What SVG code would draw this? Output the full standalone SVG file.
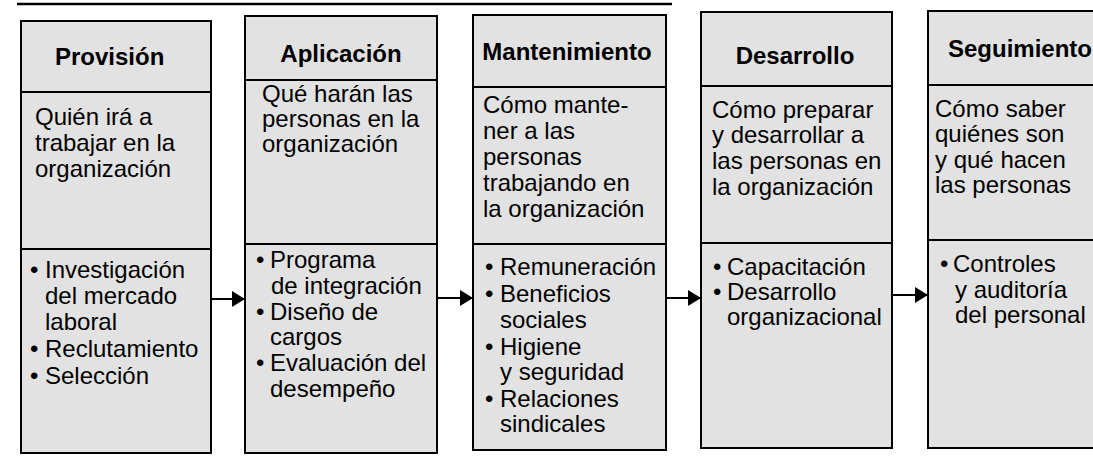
<svg xmlns="http://www.w3.org/2000/svg" width="1093" height="457" viewBox="0 0 1093 457">
<defs>
<style>
.box{fill:#e2e2e2;stroke:#000;stroke-width:2}
.div{stroke:#000;stroke-width:2}
.h{font-family:"Liberation Sans",Arial,sans-serif;font-weight:bold;font-size:24px;fill:#000}
.t{font-family:"Liberation Sans",Arial,sans-serif;font-size:24px;fill:#000}
.con{stroke:#000;stroke-width:2;fill:none}
</style>
<marker id="ah" markerUnits="userSpaceOnUse" markerWidth="14" markerHeight="16" refX="13" refY="8" orient="auto">
<path d="M0,0 L13,8 L0,16 Z" fill="#000"/>
</marker>
</defs>
<rect width="1093" height="457" fill="#fff"/>
<line x1="17" y1="4" x2="672" y2="4" stroke="#000" stroke-width="2.5"/>

<g id="provision">
<rect class="box" x="21" y="21" width="190" height="432"/>
<line class="div" x1="21" y1="92" x2="211" y2="92"/>
<line class="div" x1="21" y1="249" x2="211" y2="249"/>
<text class="h" x="55" y="65">Provisión</text>
<text class="t"><tspan x="35" y="125">Quién irá a</tspan><tspan x="35" y="151">trabajar en la</tspan><tspan x="35" y="177">organización</tspan></text>
<text class="t"><tspan x="30" y="278">•</tspan><tspan x="45" y="278">Investigación</tspan><tspan x="45" y="304">del mercado</tspan><tspan x="45" y="330">laboral</tspan><tspan x="30" y="357">•</tspan><tspan x="45" y="357">Reclutamiento</tspan><tspan x="30" y="384">•</tspan><tspan x="45" y="384">Selección</tspan></text>
</g>

<g id="aplicacion">
<rect class="box" x="245" y="16" width="192" height="437"/>
<line class="div" x1="245" y1="80" x2="437" y2="80"/>
<line class="div" x1="245" y1="244" x2="437" y2="244"/>
<text class="h" x="341" y="62" text-anchor="middle">Aplicación</text>
<text class="t"><tspan x="262" y="102">Qué harán las</tspan><tspan x="262" y="127">personas en la</tspan><tspan x="262" y="152">organización</tspan></text>
<text class="t"><tspan x="256" y="268">•</tspan><tspan x="270" y="268">Programa</tspan><tspan x="271" y="294">de integración</tspan><tspan x="256" y="320">•</tspan><tspan x="270" y="320">Diseño de</tspan><tspan x="270" y="345">cargos</tspan><tspan x="256" y="371">•</tspan><tspan x="270" y="371">Evaluación del</tspan><tspan x="270" y="397">desempeño</tspan></text>
</g>

<g id="mantenimiento">
<rect class="box" x="473" y="15" width="193" height="435"/>
<line class="div" x1="473" y1="87" x2="666" y2="87"/>
<line class="div" x1="473" y1="244" x2="666" y2="244"/>
<text class="h" x="567" y="60" text-anchor="middle">Mantenimiento</text>
<text class="t"><tspan x="483" y="113">Cómo mante-</tspan><tspan x="483" y="139">ner a las</tspan><tspan x="483" y="165">personas</tspan><tspan x="483" y="191">trabajando en</tspan><tspan x="483" y="217">la organización</tspan></text>
<text class="t"><tspan x="485" y="275">•</tspan><tspan x="500" y="275">Remuneración</tspan><tspan x="485" y="302">•</tspan><tspan x="500" y="302">Beneficios</tspan><tspan x="500" y="328">sociales</tspan><tspan x="485" y="355">•</tspan><tspan x="500" y="355">Higiene</tspan><tspan x="500" y="380">y seguridad</tspan><tspan x="485" y="407">•</tspan><tspan x="500" y="407">Relaciones</tspan><tspan x="500" y="432">sindicales</tspan></text>
</g>

<g id="desarrollo">
<rect class="box" x="701" y="12" width="191" height="436"/>
<line class="div" x1="701" y1="86" x2="892" y2="86"/>
<line class="div" x1="701" y1="243" x2="892" y2="243"/>
<text class="h" x="795" y="64" text-anchor="middle">Desarrollo</text>
<text class="t"><tspan x="712" y="118">Cómo preparar</tspan><tspan x="712" y="143">y desarrollar a</tspan><tspan x="712" y="169">las personas en</tspan><tspan x="712" y="195">la organización</tspan></text>
<text class="t"><tspan x="713" y="275">•</tspan><tspan x="727" y="275">Capacitación</tspan><tspan x="713" y="300">•</tspan><tspan x="727" y="300">Desarrollo</tspan><tspan x="727" y="325">organizacional</tspan></text>
</g>

<g id="seguimiento">
<rect class="box" x="928" y="11" width="180" height="437"/>
<line class="div" x1="928" y1="85" x2="1093" y2="85"/>
<line class="div" x1="928" y1="240" x2="1093" y2="240"/>
<text class="h" x="948" y="57">Seguimiento</text>
<text class="t"><tspan x="935" y="117">Cómo saber</tspan><tspan x="935" y="142">quiénes son</tspan><tspan x="935" y="168">y qué hacen</tspan><tspan x="935" y="193">las personas</tspan></text>
<text class="t"><tspan x="940" y="272">•</tspan><tspan x="953" y="272">Controles</tspan><tspan x="955" y="298">y auditoría</tspan><tspan x="955" y="323">del personal</tspan></text>
</g>

<g id="connectors">
<line class="con" x1="211" y1="299" x2="245" y2="299" marker-end="url(#ah)"/>
<line class="con" x1="437" y1="298" x2="473" y2="298" marker-end="url(#ah)"/>
<line class="con" x1="666" y1="298" x2="701" y2="298" marker-end="url(#ah)"/>
<line class="con" x1="892" y1="295" x2="928" y2="295" marker-end="url(#ah)"/>
</g>
</svg>
